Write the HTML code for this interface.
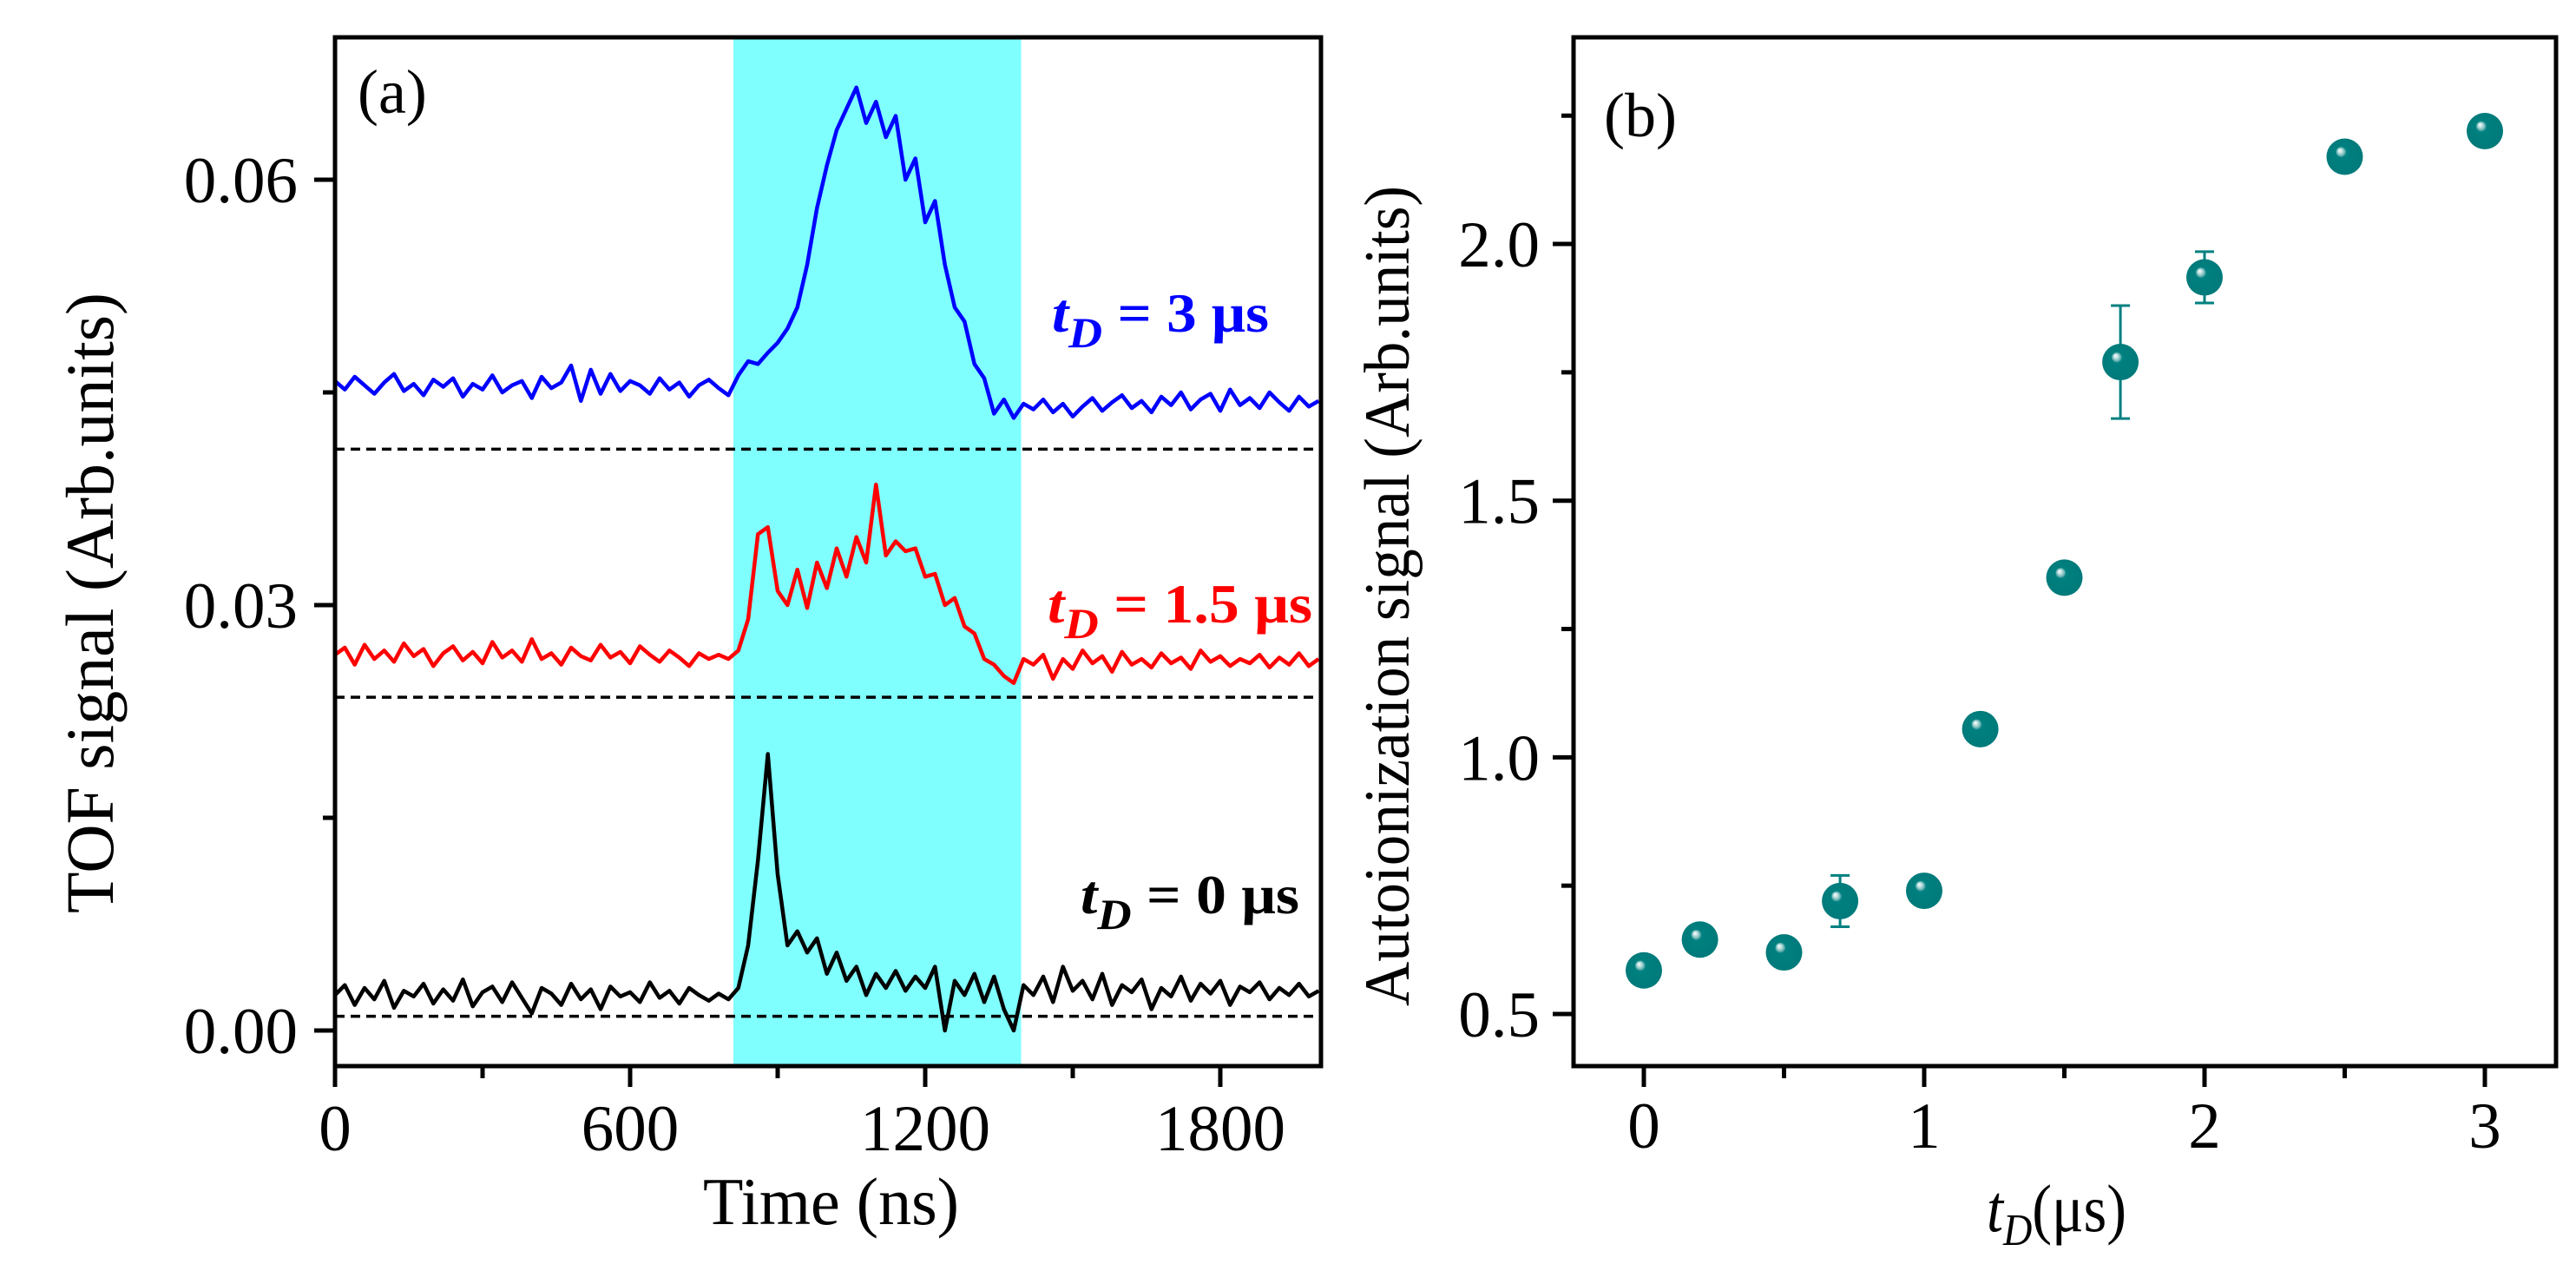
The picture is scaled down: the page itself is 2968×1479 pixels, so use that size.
<!DOCTYPE html>
<html><head><meta charset="utf-8"><style>
html,body{margin:0;padding:0;background:#fff}
svg{display:block;font-family:"Liberation Serif",serif}
</style></head><body>
<svg id="fig" width="2968" height="1479" viewBox="0 0 2968 1479" xmlns="http://www.w3.org/2000/svg">
<g id="pa"></g>
<g id="pb"></g>
</svg>
<script>
// Panel (a) data: TOF traces, 20 ns step from 0 to 2000 ns
const timeStart = 0, timeStep = 20;
const blueTrace = [0.0458,0.0452,0.0461,0.0455,0.0449,0.0457,0.0463,0.0451,0.0456,0.0448,0.0459,0.0454,0.0460,0.0447,0.0456,0.0452,0.0462,0.0450,0.0455,0.0458,0.0446,0.0461,0.0453,0.0457,0.0469,0.0444,0.0466,0.0449,0.0463,0.0451,0.0458,0.0455,0.0449,0.0460,0.0452,0.0457,0.0447,0.0455,0.0459,0.0453,
0.0448,0.0462,0.0472,0.0470,0.0478,0.0485,0.0495,0.0510,0.0540,0.0580,0.0610,0.0635,0.0650,0.0665,0.0640,0.0655,0.0630,0.0645,0.0600,0.0615,0.0570,0.0585,0.0540,0.0510,0.0500,0.0470,0.0460,0.0435,0.0445,0.0432,0.0442,
0.0438,0.0445,0.0436,0.0442,0.0433,0.0440,0.0446,0.0437,0.0443,0.0448,0.0439,0.0444,0.0436,0.0447,0.0441,0.0450,0.0438,0.0445,0.0449,0.0437,0.0452,0.0441,0.0446,0.0439,0.0450,0.0443,0.0437,0.0447,0.0440,0.0444];
const redTrace = [0.0265,0.0270,0.0258,0.0272,0.0262,0.0268,0.0260,0.0273,0.0264,0.0269,0.0257,0.0266,0.0271,0.0261,0.0267,0.0259,0.0274,0.0263,0.0268,0.0260,0.0276,0.0262,0.0266,0.0258,0.0270,0.0264,0.0261,0.0272,0.0263,0.0267,0.0259,0.0271,0.0265,0.0260,0.0268,0.0263,0.0257,0.0266,0.0262,0.0265,
0.0262,0.0268,0.0290,0.0350,0.0355,0.0310,0.0300,0.0325,0.0298,0.0330,0.0312,0.0340,0.0320,0.0348,0.0330,0.0385,0.0335,0.0345,0.0338,0.0340,0.0320,0.0322,0.0300,0.0305,0.0285,0.0280,0.0262,0.0258,0.0250,0.0245,0.0262,
0.0258,0.0265,0.0248,0.0262,0.0255,0.0268,0.0259,0.0264,0.0253,0.0267,0.0258,0.0262,0.0256,0.0266,0.0259,0.0263,0.0255,0.0268,0.0260,0.0264,0.0257,0.0262,0.0259,0.0265,0.0256,0.0263,0.0258,0.0266,0.0257,0.0262];
const blackTrace = [0.0025,0.0032,0.0018,0.0030,0.0022,0.0035,0.0016,0.0028,0.0024,0.0033,0.0019,0.0029,0.0021,0.0036,0.0017,0.0027,0.0031,0.0020,0.0034,0.0023,0.0012,0.0030,0.0026,0.0018,0.0033,0.0022,0.0029,0.0015,0.0031,0.0024,0.0027,0.0020,0.0034,0.0023,0.0028,0.0019,0.0030,0.0025,0.0021,0.0026,
0.0022,0.0030,0.0060,0.0120,0.0195,0.0110,0.0060,0.0070,0.0055,0.0065,0.0040,0.0055,0.0035,0.0045,0.0025,0.0040,0.0030,0.0042,0.0028,0.0038,0.0030,0.0045,0.0000,0.0035,0.0025,0.0040,0.0020,0.0038,0.0015,0.0000,0.0032,
0.0025,0.0038,0.0020,0.0045,0.0028,0.0035,0.0022,0.0040,0.0018,0.0032,0.0027,0.0036,0.0015,0.0030,0.0024,0.0038,0.0021,0.0033,0.0026,0.0035,0.0018,0.0031,0.0027,0.0034,0.0022,0.0030,0.0025,0.0033,0.0024,0.0028];
const baselines = [0.0410, 0.0235, 0.0010];
const bandRange = [810, 1395];
const aXTicks = [0, 600, 1200, 1800];
const aXMinor = [300, 900, 1500];
const aYTicks = [0, 0.03, 0.06];
const aYLabels = ["0.00", "0.03", "0.06"];
const aYMinor = [0.015, 0.045];

// Panel (b) data
const tD = [0, 0.2, 0.5, 0.7, 1, 1.2, 1.5, 1.7, 2, 2.5, 3];
const autoSig = [0.585, 0.645, 0.62, 0.72, 0.74, 1.055, 1.35, 1.77, 1.935, 2.17, 2.22];
const autoErr = [0.02, 0.01, 0.02, 0.05, 0.01, 0.01, 0.01, 0.11, 0.05, 0.01, 0.02];
const bXTicks = [0, 1, 2, 3];
const bXMinor = [0.5, 1.5, 2.5];
const bYTicks = [0.5, 1.0, 1.5, 2.0];
const bYLabels = ["0.5", "1.0", "1.5", "2.0"];
const bYMinor = [0.75, 1.25, 1.75, 2.25];

const NS = "http://www.w3.org/2000/svg";
function mk(parent, tag, attrs, text) {
  const e = document.createElementNS(NS, tag);
  for (const k in attrs) e.setAttribute(k, attrs[k]);
  if (text !== undefined) e.textContent = text;
  parent.appendChild(e);
  return e;
}
const FS = 75;

// Panel a
const pa = document.getElementById('pa');
const A = {l:386, r:1522, t:43, b:1228};
const ax = v => 386 + (v - 0) * 0.56667;
const ay = v => 1187 - v / 0.03 * 490;

const band = mk(pa, 'rect', {x:ax(bandRange[0]), y:A.t, width:ax(bandRange[1]) - ax(bandRange[0]), height:A.b - A.t, fill:'#80ffff'});



baselines.forEach((b, i) => {
  const l = mk(pa, 'line', {x1:A.l, x2:A.r, y1:ay(b), y2:ay(b), stroke:'#000', 'stroke-width':3.5, 'stroke-dasharray':'11 7'});
  
  
});

function trace(arr, color, name) {
  const pts = arr.map((v, i) => ax(timeStart + i * timeStep).toFixed(1) + ',' + ay(v).toFixed(1)).join(' ');
  const p = mk(pa, 'polyline', {points:pts, fill:'none', stroke:color, 'stroke-width':4.5, 'stroke-linejoin':'round'});
  
  
}
trace(blueTrace, '#0000ff', 'trace-td-3us');
trace(redTrace, '#ff0000', 'trace-td-1-5us');
trace(blackTrace, '#000000', 'trace-td-0us');

const fa = mk(pa, 'rect', {x:A.l, y:A.t, width:A.r - A.l, height:A.b - A.t, fill:'none', stroke:'#000', 'stroke-width':5});



aXTicks.forEach(v => {
  mk(pa, 'line', {x1:ax(v), x2:ax(v), y1:A.b, y2:A.b + 24, stroke:'#000', 'stroke-width':5});
  const t = mk(pa, 'text', {x:ax(v), y:1325, 'font-size':FS, 'text-anchor':'middle'}, String(v));
  
  
});
aXMinor.forEach(v => mk(pa, 'line', {x1:ax(v), x2:ax(v), y1:A.b, y2:A.b + 14, stroke:'#000', 'stroke-width':5}));
aYTicks.forEach((v, i) => {
  mk(pa, 'line', {x1:A.l - 24, x2:A.l, y1:ay(v), y2:ay(v), stroke:'#000', 'stroke-width':5});
  const t = mk(pa, 'text', {x:343, y:ay(v) + 26, 'font-size':FS, 'text-anchor':'end'}, aYLabels[i]);
  
  
});
aYMinor.forEach(v => mk(pa, 'line', {x1:A.l - 14, x2:A.l, y1:ay(v), y2:ay(v), stroke:'#000', 'stroke-width':5}));

// Panel b
const pb = document.getElementById('pb');
const B = {l:1813, r:2945, t:43, b:1228};
const bx = v => 1894 + v * 323;
const by = v => 1168 - (v - 0.5) * 591.3;

const fb = mk(pb, 'rect', {x:B.l, y:B.t, width:B.r - B.l, height:B.b - B.t, fill:'none', stroke:'#000', 'stroke-width':5});



bXTicks.forEach(v => {
  mk(pb, 'line', {x1:bx(v), x2:bx(v), y1:B.b, y2:B.b + 24, stroke:'#000', 'stroke-width':5});
  const t = mk(pb, 'text', {x:bx(v), y:1322, 'font-size':FS, 'text-anchor':'middle'}, String(v));
  
  
});
bXMinor.forEach(v => mk(pb, 'line', {x1:bx(v), x2:bx(v), y1:B.b, y2:B.b + 14, stroke:'#000', 'stroke-width':5}));
bYTicks.forEach((v, i) => {
  mk(pb, 'line', {x1:B.l - 24, x2:B.l, y1:by(v), y2:by(v), stroke:'#000', 'stroke-width':5});
  const t = mk(pb, 'text', {x:1774, y:by(v) + 26, 'font-size':FS, 'text-anchor':'end'}, bYLabels[i]);
  
  
});
bYMinor.forEach(v => mk(pb, 'line', {x1:B.l - 14, x2:B.l, y1:by(v), y2:by(v), stroke:'#000', 'stroke-width':5}));

const defs = mk(document.getElementById('fig'), 'defs', {});
const gr = mk(defs, 'radialGradient', {id:'ball', cx:'0.5', cy:'0.5', r:'0.5', fx:'0.36', fy:'0.32'});
mk(gr, 'stop', {offset:'0', 'stop-color':'#ffffff'});
mk(gr, 'stop', {offset:'0.1', 'stop-color':'#c8e6e6'});
mk(gr, 'stop', {offset:'0.22', 'stop-color':'#6fb4b4'});
mk(gr, 'stop', {offset:'0.3', 'stop-color':'#008080'});
mk(gr, 'stop', {offset:'1', 'stop-color':'#007a7a'});

tD.forEach((x, i) => {
  const cx = bx(x), y0 = by(autoSig[i] - autoErr[i]), y1 = by(autoSig[i] + autoErr[i]);
  const eb = mk(pb, 'path', {d:`M${cx},${y0}V${y1}M${cx-11},${y0}H${cx+11}M${cx-11},${y1}H${cx+11}`, stroke:'#008080', 'stroke-width':3, fill:'none'});
  
  
  const c = mk(pb, 'circle', {cx:cx, cy:by(autoSig[i]), r:21, fill:'url(#ball)'});
  
  
});
</script>
<svg width="2968" height="1479" style="position:absolute;left:0;top:0" xmlns="http://www.w3.org/2000/svg">
<g font-family="Liberation Serif, serif">
<text x="412" y="130" font-size="72">(a)</text>
<text x="1848" y="157" font-size="72">(b)</text>
<text x="1212" y="382" font-size="64" font-weight="bold" fill="#0000ff" textLength="250" lengthAdjust="spacingAndGlyphs"><tspan font-style="italic">t</tspan><tspan font-style="italic" font-size="50" dy="18">D</tspan><tspan dy="-18"> = 3 μs</tspan></text>
<text x="1207" y="717" font-size="64" font-weight="bold" fill="#ff0000" textLength="305" lengthAdjust="spacingAndGlyphs"><tspan font-style="italic">t</tspan><tspan font-style="italic" font-size="50" dy="18">D</tspan><tspan dy="-18"> = 1.5 μs</tspan></text>
<text x="1245" y="1052" font-size="64" font-weight="bold" fill="#000" textLength="252" lengthAdjust="spacingAndGlyphs"><tspan font-style="italic">t</tspan><tspan font-style="italic" font-size="50" dy="18">D</tspan><tspan dy="-18"> = 0 μs</tspan></text>
<text x="810" y="1410" font-size="77" textLength="295" lengthAdjust="spacingAndGlyphs">Time (ns)</text>
<text x="2289" y="1418" font-size="77" textLength="161" lengthAdjust="spacingAndGlyphs"><tspan font-style="italic">t</tspan><tspan font-style="italic" font-size="52" dy="16">D</tspan><tspan dy="-16">(μs)</tspan></text>
<text transform="translate(130,1052) rotate(-90)" font-size="78" textLength="715" lengthAdjust="spacingAndGlyphs">TOF signal (Arb.units)</text>
<text transform="translate(1623,1159) rotate(-90)" font-size="74" textLength="945" lengthAdjust="spacingAndGlyphs">Autoionization signal (Arb.units)</text>
</g>
</svg>
</body></html>
